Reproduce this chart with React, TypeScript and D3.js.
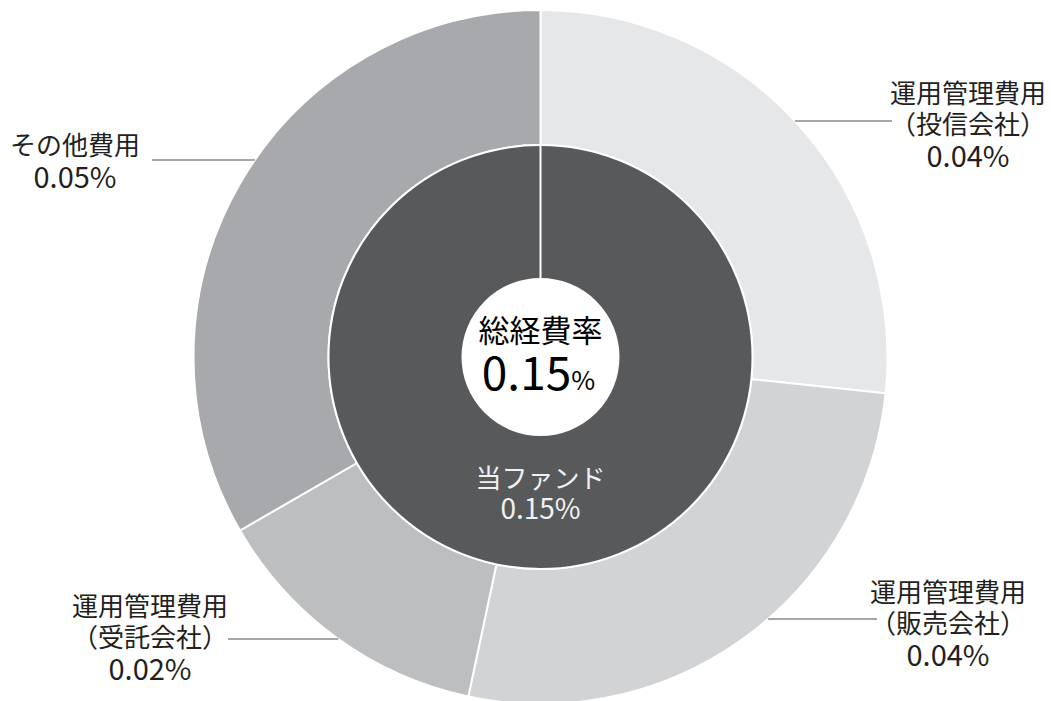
import React from "react";
import * as d3 from "d3";

// ---- data ----
const outerCategories: string[][] = [
  ["運用管理費用", "（投信会社）"],
  ["運用管理費用", "（販売会社）"],
  ["運用管理費用", "（受託会社）"],
  ["その他費用"],
];
const outerValues: number[] = [0.04, 0.04, 0.02, 0.05];
const innerCategory = "当ファンド";
const innerValue = 0.15;
const totalTitle = "総経費率";
const totalValue = 0.15;

// ---- styles / layout ----
const W = 1051;
const H = 701;
const cx = 540.5;
const cy = 357;
const R = 347;
const ringInner = 212;
const holeR = 78;
const outerColors = ["#e6e7e8", "#d1d3d4", "#bcbec0", "#a7a9ac"];
const innerColor = "#58595b";
const textColor = "#231f20";
const FONT = "'Noto Sans CJK JP', 'Noto Sans', sans-serif";

// label layout: center x, first line center y, leader y, leader text-side x
const labelLayout = [
  { x: 968, y: 91, ly: 121, lx: 892, side: 1 },
  { x: 948, y: 590, ly: 619, lx: 877, side: 1 },
  { x: 150, y: 604, ly: 639, lx: 228, side: -1 },
  { x: 75, y: 143, ly: 160, lx: 152, side: -1 },
];
const lineH = 31;

const fmt = (v: number) => d3.format(".2f")(v) + "%";

export default function App() {
  const pie = d3.pie<number>().sort(null).value((d) => d);
  const outerArcs = pie(outerValues);
  const innerArcs = pie([innerValue]);

  const outerArc = d3.arc<d3.PieArcDatum<number>>().innerRadius(ringInner).outerRadius(R);
  const innerArc = d3.arc<d3.PieArcDatum<number>>().innerRadius(holeR).outerRadius(ringInner);

  const innerStart = innerArcs[0].startAngle;

  return (
    <svg
      width={W}
      height={H}
      style={{ position: "absolute", left: 0, top: 0, background: "#fff" }}
      fontFamily={FONT}
    >
      <g transform={`translate(${cx},${cy})`}>
        {outerArcs.map((a, i) => (
          <path key={i} d={outerArc(a) || ""} fill={outerColors[i]} stroke="#fff" strokeWidth={2} />
        ))}
        {innerArcs.map((a, i) => (
          <path key={i} d={innerArc(a) || ""} fill={innerColor} stroke="#fff" strokeWidth={2} />
        ))}
        <line
          x1={Math.sin(innerStart) * holeR}
          y1={-Math.cos(innerStart) * holeR}
          x2={Math.sin(innerStart) * ringInner}
          y2={-Math.cos(innerStart) * ringInner}
          stroke="#fff"
          strokeWidth={2}
        />
        <circle r={holeR} fill="#fff" />
      </g>

      {/* leader lines */}
      {labelLayout.map((l, i) => {
        const dy = l.ly - cy;
        const ex = cx + l.side * Math.sqrt(R * R - dy * dy);
        return <line key={i} x1={l.lx} y1={l.ly} x2={ex} y2={l.ly} stroke="#505052" strokeWidth={1.2} />;
      })}

      {/* outer labels */}
      {outerCategories.map((lines, i) => {
        const l = labelLayout[i];
        const all = [...lines, fmt(outerValues[i])];
        return (
          <text key={i} textAnchor="middle" fontSize={26} fill={textColor}>
            {all.map((t, j) => (
              <tspan
                key={j}
                x={l.x}
                y={l.y + j * lineH + (j === all.length - 1 ? 1 : 0)}
                dominantBaseline="central"
                fontSize={j === all.length - 1 ? 29 : 26}
              >
                {t}
              </tspan>
            ))}
          </text>
        );
      })}

      {/* inner label */}
      <text textAnchor="middle" fontSize={26} fill="#f1f1f2">
        <tspan x={cx} y={476} dominantBaseline="central">{innerCategory}</tspan>
        <tspan x={cx} y={507} dominantBaseline="central" fontSize={28}>{fmt(innerValue)}</tspan>
      </text>

      {/* center total */}
      <text x={cx} y={328} textAnchor="middle" dominantBaseline="central" fontSize={31} fill="#000">
        {totalTitle}
      </text>
      <text x={cx - 2} y={390} textAnchor="middle" fill="#000">
        <tspan fontSize={46}>{d3.format(".2f")(totalValue)}</tspan>
        <tspan fontSize={26}>%</tspan>
      </text>
    </svg>
  );
}
